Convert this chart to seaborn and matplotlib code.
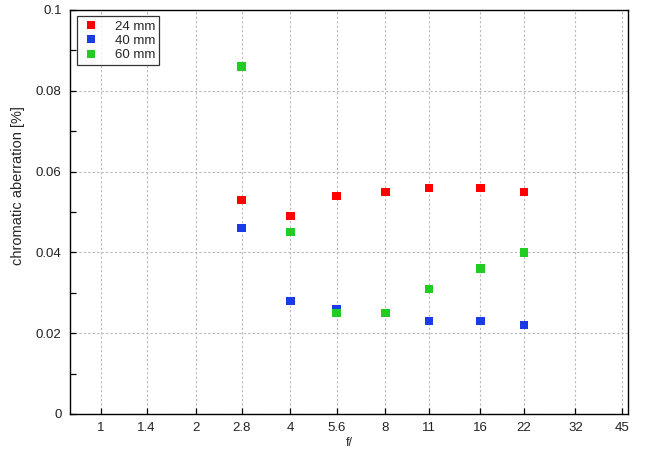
import numpy as np
import pandas as pd
import matplotlib
matplotlib.use("Agg")
import matplotlib.pyplot as plt
from matplotlib.ticker import FixedLocator, MultipleLocator, FormatStrFormatter
import seaborn as sns

# f-stops on the axis and values
f_ticks = [1, 1.4, 2, 2.8, 4, 5.6, 8, 11, 16, 22, 32, 45]
f_stops = [2.8, 4, 5.6, 8, 11, 16, 22]
ca_24mm = [0.053, 0.049, 0.054, 0.055, 0.056, 0.056, 0.055]
ca_40mm = [0.046, 0.028, 0.026, 0.025, 0.023, 0.023, 0.022]
ca_60mm = [0.086, 0.045, 0.025, 0.025, 0.031, 0.036, 0.040]
labels = ["24 mm", "40 mm", "60 mm"]
colors = ["#ff0000", "#1a3ce6", "#22cc22"]

df = pd.concat([
    pd.DataFrame({"f": f_stops, "ca": vals, "lens": lab})
    for vals, lab in zip([ca_24mm, ca_40mm, ca_60mm], labels)
])

sns.set_style("white")
plt.rcParams["font.family"] = ["Liberation Sans", "DejaVu Sans"]

fig = plt.figure(figsize=(6.5, 4.5), dpi=100)
ax = fig.add_axes([0.1077, 0.08, 0.8585, 0.898])

sns.scatterplot(data=df, x="f", y="ca", hue="lens", palette=colors,
                marker="s", s=36, linewidth=0, ax=ax, zorder=3)

ax.set_xscale("log", base=2)
ax.set_xlim(0.8, 47)
ax.set_ylim(0, 0.1)
ax.xaxis.set_major_locator(FixedLocator(f_ticks))
ax.xaxis.set_minor_locator(FixedLocator([]))
ax.set_xticklabels([f"{t:g}" for t in f_ticks])
ax.yaxis.set_major_locator(MultipleLocator(0.02))
ax.yaxis.set_minor_locator(MultipleLocator(0.01))
ax.yaxis.set_major_formatter(FormatStrFormatter("%g"))

ax.tick_params(axis="both", which="both", direction="in", length=4,
               width=0.9, color="black", labelsize=9.5, labelcolor="#222222",
               left=True, bottom=True, right=False, top=False)
ax.tick_params(axis="x", pad=6)
ax.tick_params(axis="y", pad=6)
ax.grid(True, which="major", linestyle=(0, (2, 2)), color="#b8b8b8", linewidth=0.8)
for s in ax.spines.values():
    s.set_color("black")
    s.set_linewidth(1.0)

ax.set_xlabel("f/", fontsize=9, labelpad=2)
ax.set_ylabel("chromatic aberration [%]", fontsize=10.5)
ax.yaxis.set_label_coords(-0.08, 0.565)

leg = ax.legend(loc="upper left", fontsize=9.5, frameon=True, fancybox=False,
                borderpad=0.3, handletextpad=1.0, labelspacing=0.15,
                borderaxespad=0.5, markerscale=1.0, handlelength=1.6)
leg.get_frame().set_edgecolor("black")
leg.get_frame().set_linewidth(0.9)

fig.savefig("out.png", dpi=100)
